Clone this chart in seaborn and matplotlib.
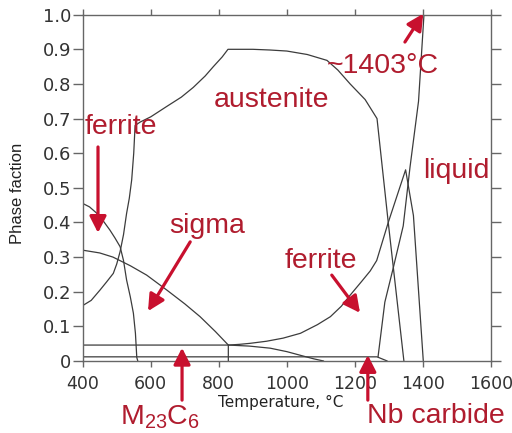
import numpy as np
import pandas as pd
import matplotlib
matplotlib.use("Agg")
import matplotlib.pyplot as plt
import seaborn as sns

# phase fraction curves (temperature in C, fraction)
austenite_T = [400, 425, 451, 470, 490, 500, 510, 520, 529, 537, 544, 550, 554,
               569, 600, 647, 690, 725, 760, 784, 810, 827,
               860, 900, 950, 1000, 1060, 1118, 1150, 1186, 1230, 1265, 1298, 1344]
austenite_f = [0.16, 0.175, 0.205, 0.228, 0.253, 0.28, 0.316, 0.365, 0.426, 0.47, 0.523, 0.60, 0.68,
               0.69, 0.705, 0.735, 0.762, 0.79, 0.823, 0.85, 0.878, 0.90,
               0.90, 0.90, 0.898, 0.895, 0.885, 0.868, 0.84, 0.80, 0.755, 0.70, 0.40, 0.0]

ferrite_low_T = [400, 420, 441, 460, 480, 495, 510, 520, 529, 540, 549, 555, 559, 562]
ferrite_low_f = [0.455, 0.445, 0.427, 0.405, 0.378, 0.355, 0.33, 0.29, 0.234, 0.185, 0.138, 0.08, 0.01, 0.0]

ferrite_high_T = [828, 860, 892, 940, 989, 1040, 1090, 1128, 1160, 1186, 1220, 1245, 1264,
                  1298, 1349, 1372, 1401]
ferrite_high_f = [0.046, 0.048, 0.051, 0.057, 0.066, 0.08, 0.105, 0.128, 0.158, 0.19, 0.23, 0.26, 0.29,
                  0.40, 0.552, 0.42, 0.0]

sigma_T = [400, 450, 489, 540, 588, 647, 700, 745, 790, 828, 828]
sigma_f = [0.32, 0.312, 0.30, 0.275, 0.248, 0.205, 0.165, 0.128, 0.085, 0.046, 0.0]

m23c6_T = [400, 828, 890, 951, 1000, 1049, 1080, 1108]
m23c6_f = [0.046, 0.046, 0.043, 0.037, 0.027, 0.014, 0.006, 0.0]

nbc_T = [400, 1265, 1295]
nbc_f = [0.012, 0.012, 0.0]

liquid_T = [1268, 1288, 1313, 1342, 1362, 1387, 1403]
liquid_f = [0.012, 0.17, 0.27, 0.39, 0.56, 0.75, 1.0]

x_ticks = [400, 600, 800, 1000, 1200, 1400, 1600]
y_ticks = [0, 0.1, 0.2, 0.3, 0.4, 0.5, 0.6, 0.7, 0.8, 0.9, 1.0]
y_tick_labels = ['0', '0.1', '0.2', '0.3', '0.4', '0.5', '0.6', '0.7', '0.8', '0.9', '1.0']

sns.set_style('ticks')
plt.rcParams['font.family'] = ['Liberation Sans', 'DejaVu Sans']
plt.rcParams['mathtext.fontset'] = 'custom'
plt.rcParams['mathtext.rm'] = 'Liberation Sans'
plt.rcParams['mathtext.it'] = 'Liberation Sans'

fig = plt.figure(figsize=(5.12, 4.33), dpi=100)
ax = fig.add_axes([0.1615, 0.1663, 0.7975, 0.7998])

curves = [
    (austenite_T, austenite_f),
    (ferrite_low_T, ferrite_low_f),
    (ferrite_high_T, ferrite_high_f),
    (sigma_T, sigma_f),
    (m23c6_T, m23c6_f),
    (nbc_T, nbc_f),
    (liquid_T, liquid_f),
]
for T, f in curves:
    df = pd.DataFrame({'T': T, 'f': f})
    sns.lineplot(data=df, x='T', y='f', sort=False, estimator=None,
                 color='#3c3c3c', lw=0.9, ax=ax)

ax.set_xlim(400, 1600)
ax.set_ylim(0, 1.0)
ax.set_xticks(x_ticks)
ax.set_yticks(y_ticks)
ax.set_yticklabels(y_tick_labels)
ax.set_xlabel('')
ax.set_ylabel('')

for s in ax.spines.values():
    s.set_color('#666666')
    s.set_linewidth(1.0)
    s.set_visible(True)

ax.tick_params(axis='x', which='both', direction='out', length=4, width=1,
               color='#666666', top=True, labeltop=False, pad=6,
               labelsize=12.5, labelcolor='#333333')
ax.tick_params(axis='y', which='both', direction='out', length=7, width=1,
               color='#666666', right=True, labelright=False, pad=1.5,
               labelsize=13, labelcolor='#333333')
for lab in ax.get_xticklabels() + ax.get_yticklabels():
    lab.set_family('DejaVu Sans')

# axis titles (placed like the original)
ax.text(983, -0.12, 'Temperature, °C', fontsize=11, family='DejaVu Sans',
        color='#222222', ha='center', va='center', clip_on=False)
fig.text(18 / 512, 1 - 193 / 433, 'Phase faction', fontsize=12, rotation=90,
         color='#222222', ha='center', va='center')

txt_c = '#b01c2e'
arr_c = '#c8102e'
labels = [
    ('ferrite', 512, 0.676),
    ('austenite', 956, 0.754),
    ('~1403°C', 1282, 0.852),
    ('liquid', 1497, 0.549),
    ('sigma', 765, 0.39),
    ('ferrite', 1100, 0.289),
    (r'M$_\mathregular{23}$C$_\mathregular{6}$', 627, -0.162),
    ('Nb carbide', 1438, -0.159),
]
for s, x, y in labels:
    ax.text(x, y, s, fontsize=20.5, color=txt_c, ha='center', va='center',
            clip_on=False)

arrows = [
    ((445, 0.618), (445, 0.37)),
    ((716, 0.344), (592, 0.144)),
    ((1132, 0.248), (1215, 0.139)),
    ((692, -0.113), (692, 0.038)),
    ((1238, -0.113), (1238, 0.017)),
    ((1347, 0.921), (1401, 1.003)),
]
for tail, tip in arrows:
    ax.annotate('', xy=tip, xytext=tail,
                arrowprops=dict(arrowstyle='-|>,head_length=0.55,head_width=0.28',
                                mutation_scale=18, lw=2.3, color=arr_c,
                                shrinkA=0, shrinkB=0),
                annotation_clip=False)

fig.savefig('out.png', dpi=100)
